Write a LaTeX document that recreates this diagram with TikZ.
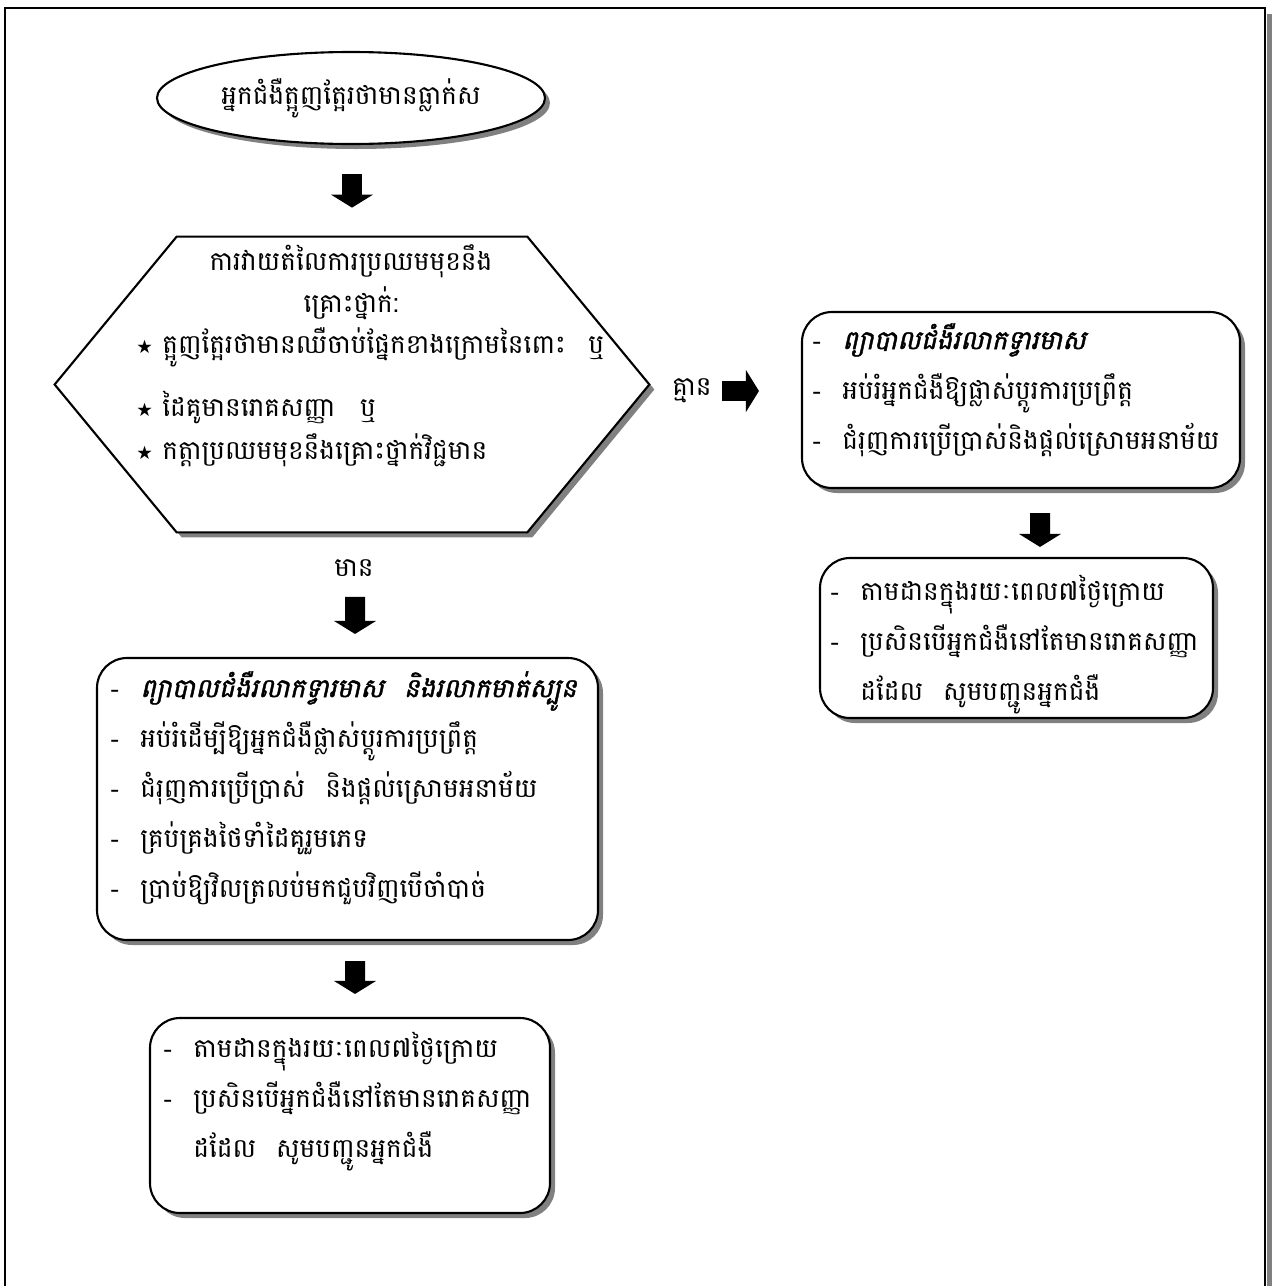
\documentclass[tikz,border=0pt]{standalone}
\usepackage{fontspec}
\setmainfont{Liberation Serif}
\newfontfamily\khmer[Script=Khmer]{Battambang}
\newfontfamily\khmerbi[Script=Khmer,FakeSlant=0.22,FakeBold=1.6]{Battambang}
\newfontfamily\symfont{DejaVu Sans}
\usepackage{tikz}
\usetikzlibrary{arrows.meta,positioning,calc,shapes.geometric,shadows}
\newcommand{\itm}{\makebox[6mm][l]{\rmfamily -}}
\newcommand{\str}{\makebox[5.2mm][l]{\symfont\fontsize{10.5}{10.5}\selectfont ★}}
\tikzset{
    shadowed/.style={drop shadow={shadow xshift=1mm,shadow yshift=-1mm,fill=gray,opacity=1}},
    boxnode/.style={draw=black,fill=white,line width=1.2pt,rounded corners=6mm,
      shadowed,inner sep=0pt},
    ovalnode/.style={ellipse,draw=black,fill=white,line width=1.2pt,shadowed,
      minimum width=77.6mm,minimum height=18.4mm,inner sep=0pt},
    hexline/.style={draw=black,fill=white,line width=1.2pt,line join=miter,shadowed},
    khtext/.style={font=\khmer\fontsize{15}{28.5}\selectfont,inner sep=0pt},
    boxtext/.style={khtext,align=left,anchor=north west},
    hextext/.style={font=\khmer\fontsize{15}{24}\selectfont,inner sep=0pt},
    blockarrow/.style={draw=black,line width=4mm,line cap=butt,
      -{Triangle[length=2.6mm,width=8.4mm,line width=0pt]}}
}
\begin{document}
\begin{tikzpicture}[x=0.2mm,y=-0.2mm]
  \useasboundingbox (0,0) rectangle (1274,1286);
  % page frame
  \fill[gray] (1266.5,14) rectangle (1272,1286);
  \draw[line width=0.55mm] (5,1286) -- (5,8) -- (1265,8) -- (1265,1286);

  \node[ovalnode,font=\khmer\fontsize{15}{18}\selectfont] (start) at (351,98)
    {អ្នកជំងឺត្អូញត្អែរថាមានធ្លាក់ស};

  % assessment hexagon
  \node[minimum width=70mm,minimum height=59mm,inner sep=0pt] (hex) at (352,384.5) {};
  \draw[hexline] ($(hex.west)+(-122,0)$) -- (hex.north west) -- (hex.north east)
    -- ($(hex.east)+(122,0)$) -- (hex.south east) -- (hex.south west) -- cycle;
  \node[hextext,align=center] (hexhead) at (351,282)
    {ការវាយតំលៃការប្រឈមមុខនឹង\\គ្រោះថ្នាក់:};
  \node[hextext,align=left,anchor=north west] (hexlist) at (136,327)
    {\str ត្អូញត្អែរថាមានឈឺចាប់ផ្នែកខាងក្រោមនៃពោះ\hspace{4.5mm}ឬ\\[4.3mm]
     \str ដៃគូមានរោគសញ្ញា\hspace{5mm}ឬ\\
     \str កត្តាប្រឈមមុខនឹងគ្រោះថ្នាក់វិជ្ជមាន};

  \node[khtext] (nolbl) at (692,391) {គ្មាន};
  \node[khtext] (yeslbl) at (354,568) {មាន};

  % right branch
  \node[boxnode,minimum width=87.6mm,minimum height=35.2mm] (rbox1) at (1021,400) {};
  \node[boxtext] (rtext1) at (812,323)
    {\itm{\khmerbi ព្យាបាលជំងឺរលាកទ្វារមាស}\\
     \itm អប់រំអ្នកជំងឺឱ្យផ្លាស់ប្តូរការប្រព្រឹត្ត\\
     \itm ជំរុញការប្រើប្រាស់និងផ្តល់ស្រោមអនាម័យ};
  \node[boxnode,minimum width=78.6mm,minimum height=32mm] (rbox2) at (1016.5,638) {};
  \node[boxtext] (rtext2) at (830,575)
    {\itm តាមដានក្នុងរយៈពេល៧ថ្ងៃក្រោយ\\
     \itm ប្រសិនបើអ្នកជំងឺនៅតែមានរោគសញ្ញា\\
     \makebox[6mm]{}ដដែល\hspace{4mm}សូមបញ្ជូនអ្នកជំងឺ};

  % left branch
  \node[boxnode,minimum width=100.2mm,minimum height=56.4mm] (lbox) at (347.5,799) {};
  \node[boxtext] (ltext) at (110,671)
    {\itm{\khmerbi ព្យាបាលជំងឺរលាកទ្វារមាស\hspace{4mm}និងរលាកមាត់ស្បូន}\\
     \itm អប់រំដើម្បីឱ្យអ្នកជំងឺផ្លាស់ប្តូរការប្រព្រឹត្ត\\
     \itm ជំរុញការប្រើប្រាស់\hspace{4mm}និងផ្តល់ស្រោមអនាម័យ\\
     \itm គ្រប់គ្រងថៃទាំដៃគូរួមភេទ\\
     \itm ប្រាប់ឱ្យវិលត្រលប់មកជួបវិញបើចាំបាច់};
  \node[boxnode,minimum width=80mm,minimum height=39mm] (bbox) at (350,1115.5) {};
  \node[boxtext] (btext) at (163,1032)
    {\itm តាមដានក្នុងរយៈពេល៧ថ្ងៃក្រោយ\\
     \itm ប្រសិនបើអ្នកជំងឺនៅតែមានរោគសញ្ញា\\
     \makebox[6mm]{}ដដែល\hspace{4mm}សូមបញ្ជូនអ្នកជំងឺ};

  % block arrows
  \draw[blockarrow] ($(start.south)+(1,29)$) -- ($(hex.north)+(0,-29)$);
  \draw[blockarrow] ($(nolbl.east)+(10,0)$) -- ($(rbox1.west|-nolbl.east)+(-42,0)$);
  \draw[blockarrow] ($(rbox1.south)+(19,24)$) -- ($(rbox2.north)+(23.5,-10)$);
  \draw[blockarrow] ($(yeslbl.south)+(1,20)$) -- ($(lbox.north)+(7.5,-23)$);
  \draw[blockarrow] ($(lbox.south)+(7.5,20)$) -- ($(bbox.north)+(5,-23)$);
\end{tikzpicture}
\end{document}
